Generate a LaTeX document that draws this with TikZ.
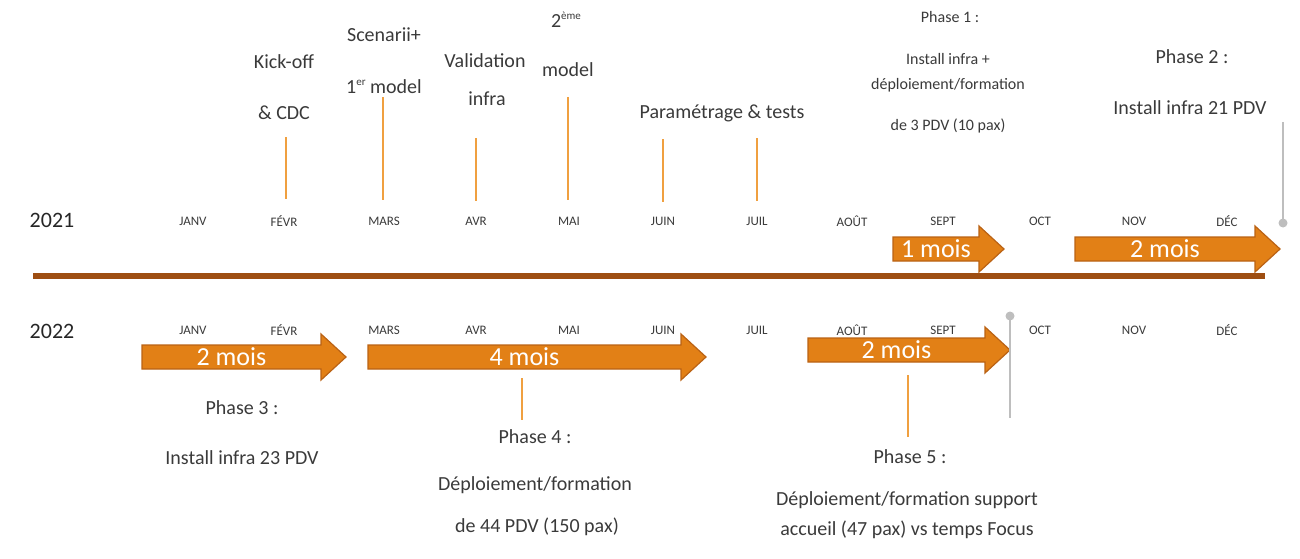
\documentclass[tikz,border=0pt]{standalone}
\usepackage{fontspec}
\setmainfont{Carlito}
\usepackage{xcolor}
\usepackage{tikz}
\usetikzlibrary{positioning}
\usetikzlibrary{calc}
\definecolor{arrowfill}{RGB}{226,128,22}
\definecolor{arrowdraw}{RGB}{186,98,20}
\definecolor{tickcol}{RGB}{240,160,64}
\definecolor{barcol}{RGB}{158,78,18}
\definecolor{txtcol}{RGB}{58,58,58}
\definecolor{markcol}{RGB}{190,190,190}
\newcommand{\supx}[1]{\raisebox{8pt}{\fontsize{11}{12}\selectfont #1}}
\tikzstyle{month}=[font=\fontsize{13}{15}\selectfont, text=txtcol, inner sep=0pt]
\tikzstyle{year}=[font=\fontsize{22}{26}\selectfont, text=black!85, inner sep=0pt]
\tikzstyle{lbl}=[font=\fontsize{20}{24}\selectfont, text=txtcol, inner sep=0pt]
\tikzstyle{smalllbl}=[font=\fontsize{16}{19}\selectfont, text=txtcol, inner sep=0pt]
\tikzstyle{dur}=[font=\fontsize{26}{30}\selectfont, text=white, inner sep=0pt]
\tikzstyle{arrowbox}=[draw=arrowdraw, fill=arrowfill, line width=1.2pt]
\tikzstyle{tick}=[draw, tickcol, line width=2pt]
\tikzstyle{marker}=[draw, markcol, line width=2pt]
\tikzstyle{bar}=[draw, barcol, line width=6pt]
\begin{document}
\begin{tikzpicture}[x=1pt, y=-1pt]

 \useasboundingbox (0,0) rectangle (1300,559);

 %years
 \node[year] (y1) at (52,220) {2021};
 \node[year] (y2) at (52,331) {2022};

 %months
   \foreach \x/\label [count=\i] in {193/JANV, 284/FÉVR, 384/MARS, 476/AVR, 569/MAI, 663/JUIN, 757/JUIL, 852/AOÛT, 943/SEPT, 1040/OCT, 1134/NOV, 1227/DÉC}
   {
          \node[month] (a\i) at (\x, 221) {\label};
          \node[month] (b\i) at (\x, 330) {\label};
   }

 %separator
 \coordinate (barl) at (33,276);
 \coordinate (barr) at (1265,276);
 \path[bar] (barl) -- (barr);

 %2021 labels
   \foreach \x/\y/\name/\label in {284/62/kick1/Kick-off, 284/113/kick2/\& CDC,
        384/35/scen1/Scenarii+, 384/87/scen2/{1\supx{er} model},
        485/61/val1/Validation, 487/99/val2/infra,
        566/20/mod1/{2\supx{ème}}, 568/70/mod2/model,
        722/113/param/{Paramétrage \& tests},
        1192/57/ph2a/{Phase 2 :}, 1190/108/ph2b/{Install infra 21 PDV}}
          \node[lbl] (\name) at (\x, \y) {\label};

   \foreach \x/\y/\name/\label in {950/17/ph1a/{Phase 1 :}, 948/59/ph1b/{Install infra +},
        948/85/ph1c/{déploiement/formation}, 948/126/ph1d/{de 3 PDV (10 pax)}}
          \node[smalllbl] (\name) at (\x, \y) {\label};

 %2022 labels
   \foreach \x/\y/\name/\label in {242/408/ph3a/{Phase 3 :}, 242/458/ph3b/{Install infra 23 PDV},
        535/437/ph4a/{Phase 4 :}, 535/485/ph4b/{Déploiement/formation}, 537/527/ph4c/{de 44 PDV (150 pax)},
        910/457/ph5a/{Phase 5 :}, 907/500/ph5b/{Déploiement/formation support},
        907/530/ph5c/{accueil (47 pax) vs temps Focus}}
          \node[lbl] (\name) at (\x, \y) {\label};

 %orange ticks
   \foreach \x/\yt/\yb/\name in {286/137/199/t1, 383/97/200/t2, 476/138/201/t3, 568/97/200/t4,
        663/139/202/t5, 757/138/201/t6, 522/378/420/t7, 908/375/437/t8}
   {
          \coordinate (\name t) at (\x, \yt);
          \coordinate (\name b) at (\x, \yb);
          \path[tick] (\name t) -- (\name b);
   }

 %durations
   \foreach \name/\xa/\xb/\y/\label in {d1/893/1004/249/1 mois, d2/1075/1280/249/2 mois,
        d3/142/346/357/2 mois, d4/368/706/357/4 mois, d5/808/1010/350/2 mois}
   {
          \path[arrowbox] (\xa,\y-12) -- (\xb-25,\y-12) -- (\xb-25,\y-23) -- (\xb,\y)
                 -- (\xb-25,\y+23) -- (\xb-25,\y+12) -- (\xa,\y+12) -- cycle;
          \node[dur] (\name) at ({(\xa+\xb-25)/2}, \y) {\label};
   }

 %end markers
 \coordinate (m1t) at (1283,122);
 \coordinate (m1b) at (1283,223);
 \path[marker] (m1t) -- (m1b);
 \fill[markcol] (m1b) circle (4.5);
 \coordinate (m2t) at (1010,316);
 \coordinate (m2b) at (1010,418);
 \path[marker] (m2t) -- (m2b);
 \fill[markcol] (m2t) circle (4.5);

\end{tikzpicture}
\end{document}
